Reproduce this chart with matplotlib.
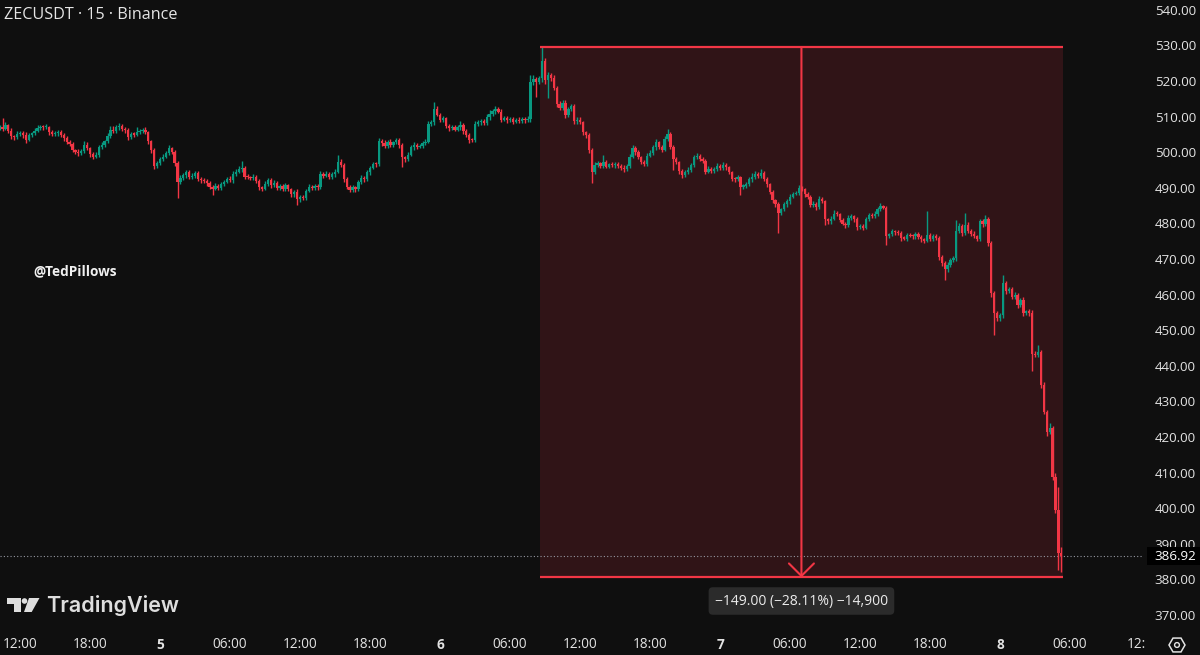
import numpy as np
import matplotlib
matplotlib.use("Agg")
import matplotlib.pyplot as plt
import matplotlib.transforms as mtransforms
from matplotlib.patches import Rectangle, RegularPolygon, Circle, Polygon

plt.rcParams["font.family"] = ["Open Sans", "DejaVu Sans"]

# --- chart data: ZECUSDT 15 min candles, day 4 10:15 -> day 8 05:15 ---
TITLE = "ZECUSDT \u00b7 15 \u00b7 Binance"
WATERMARK = "@TedPillows"

first_open = 507.2

# closes, one row per 6 hours (24 candles)
closes_a = [507.5, 507.0, 508.0, 506.5, 505.0, 504.6, 505.5, 505.8, 505.2, 504.0, 505.3, 505.8,
            506.5, 507.3, 507.6, 507.4, 507.5, 506.0, 505.6, 505.8, 506.2, 505.2, 504.5, 503.4]
closes_b = [502.8, 501.0, 500.5, 500.2, 500.8, 502.6, 501.5, 500.0, 499.2, 499.8, 501.8, 502.4,
            503.5, 505.0, 506.8, 506.3, 507.4, 507.8, 507.0, 506.6, 504.6, 505.6, 505.4, 506.0]
closes_c = [506.4, 506.8, 506.0, 503.5, 501.0, 496.5, 497.5, 498.5, 499.2, 500.3, 501.5, 500.6,
            497.4, 492.0, 493.2, 494.0, 494.8, 493.6, 493.8, 494.6, 493.0, 492.6, 492.4, 491.8]
closes_d = [490.6, 490.2, 491.0, 490.4, 491.4, 492.2, 493.0, 492.6, 494.4, 495.0, 495.6, 496.0,
            493.6, 493.4, 493.2, 493.6, 492.4, 490.6, 490.2, 491.6, 492.6, 491.2, 491.8, 490.4]
closes_e = [491.0, 490.2, 491.2, 490.0, 488.6, 489.2, 487.2, 488.0, 487.6, 489.6, 490.8, 490.4,
            491.0, 490.6, 494.2, 493.8, 494.4, 493.6, 494.2, 495.0, 497.8, 496.8, 493.0, 490.8]
closes_f = [489.8, 490.6, 490.0, 492.0, 493.2, 492.8, 494.8, 496.0, 497.2, 497.0, 503.6, 503.0,
            502.2, 503.4, 502.6, 503.2, 503.8, 502.4, 499.0, 498.4, 499.8, 501.8, 502.6, 502.0]
closes_g = [502.2, 503.0, 503.4, 508.4, 508.8, 512.6, 511.0, 509.6, 510.0, 507.8, 507.2, 507.6,
            506.8, 507.4, 508.2, 506.4, 505.4, 504.0, 503.8, 508.4, 508.8, 509.2, 508.6, 510.2]
closes_h = [511.2, 512.0, 512.6, 511.8, 509.6, 510.0, 509.4, 509.8, 509.0, 509.6, 509.2, 509.8,
            509.4, 509.8, 520.2, 521.0, 520.2, 521.2, 526.0, 520.8, 522.0, 521.2, 518.6, 514.0]
closes_i = [513.0, 514.2, 510.8, 512.6, 513.4, 509.2, 509.6, 508.8, 506.0, 505.2, 501.0, 494.8,
            496.8, 497.4, 496.6, 497.6, 496.4, 497.0, 496.8, 497.2, 496.6, 496.0, 495.6, 496.6]
closes_j = [499.2, 501.6, 500.4, 499.0, 497.8, 497.2, 499.4, 500.2, 501.8, 503.2, 502.0, 501.2,
            504.2, 505.6, 502.0, 498.4, 497.6, 495.2, 494.0, 494.8, 495.4, 496.8, 499.0, 499.4]
closes_k = [498.6, 498.0, 495.0, 495.8, 495.2, 495.6, 496.6, 496.0, 496.8, 496.2, 494.8, 493.0,
            492.8, 493.4, 490.8, 491.0, 491.4, 492.8, 493.6, 494.4, 493.8, 494.6, 493.0, 491.4]
closes_l = [489.2, 487.0, 485.8, 483.4, 484.4, 485.8, 486.6, 488.0, 488.8, 489.0, 490.4, 490.0,
            488.6, 488.0, 485.6, 486.0, 485.0, 487.4, 486.6, 481.6, 481.0, 481.8, 483.2, 483.0]
closes_m = [481.4, 480.4, 480.0, 482.0, 482.4, 481.6, 479.4, 479.8, 479.2, 481.6, 482.8, 482.6,
            483.2, 484.4, 485.2, 484.8, 477.0, 477.4, 478.2, 478.0, 477.8, 476.4, 476.2, 477.2]
closes_n = [477.0, 476.8, 477.4, 476.6, 476.0, 475.6, 477.2, 476.2, 477.0, 476.4, 471.0, 469.4,
            467.6, 468.8, 470.2, 470.6, 478.4, 479.6, 477.8, 480.0, 478.4, 477.6, 476.8, 476.0]
closes_o = [481.0, 480.2, 481.8, 475.0, 461.0, 455.4, 453.8, 454.6, 463.6, 461.4, 462.0, 459.8,
            460.4, 457.6, 459.0, 455.4, 455.8, 455.2, 443.8, 443.6, 444.2, 435.0, 427.6, 421.8,
            423.0, 409.2, 400.0, 388.0, 386.92]

# wick length above the body top / below the body bottom
upper_a = [0.6, 2.5, 0.8, 0.5, 0.7, 0.4, 0.9, 0.6, 0.5, 0.8, 0.6, 0.4, 0.7, 0.9, 0.5, 0.6, 0.8, 0.4, 0.6, 0.7, 0.5, 0.4, 0.6, 0.5]
upper_b = [0.5, 0.6, 0.4, 0.8, 0.5, 0.9, 0.6, 0.4, 0.5, 0.7, 0.6, 0.8, 0.5, 0.7, 0.9, 1.0, 0.6, 0.8, 0.5, 0.4, 0.7, 0.6, 0.5, 1.6]
upper_c = [0.7, 0.5, 0.6, 0.4, 0.5, 0.6, 0.5, 0.7, 0.8, 0.6, 1.0, 0.5, 0.4, 0.6, 0.8, 0.5, 0.7, 0.6, 0.9, 0.5, 0.6, 0.4, 0.5, 0.6]
upper_d = [0.5, 0.6, 0.8, 0.4, 0.7, 0.5, 0.6, 0.8, 0.7, 0.6, 0.9, 2.0, 0.5, 0.6, 0.4, 0.7, 0.5, 0.6, 0.4, 0.8, 0.6, 0.5, 0.7, 0.5]
upper_e = [0.6, 0.5, 0.7, 0.4, 0.5, 0.6, 0.8, 0.5, 0.4, 0.6, 0.7, 0.5, 0.6, 0.4, 0.9, 0.6, 0.7, 0.5, 0.8, 0.6, 2.0, 0.7, 0.5, 0.6]
upper_f = [0.5, 0.6, 0.4, 0.7, 0.8, 0.5, 0.6, 0.7, 0.5, 0.6, 0.9, 0.5, 1.0, 0.6, 0.8, 0.5, 0.7, 0.6, 0.5, 0.4, 0.6, 0.7, 0.8, 0.5]
upper_g = [0.6, 0.5, 0.7, 0.9, 0.6, 1.9, 0.8, 0.5, 0.6, 0.4, 0.7, 0.5, 0.6, 0.8, 0.9, 0.5, 0.6, 0.4, 0.5, 0.8, 0.6, 0.7, 0.5, 0.9]
upper_h = [1.0, 0.6, 0.8, 0.5, 0.7, 0.6, 0.5, 0.4, 0.6, 0.5, 0.7, 0.6, 0.4, 0.8, 2.0, 1.2, 0.7, 0.6, 4.0, 0.8, 1.0, 0.6, 0.9, 0.5]
upper_i = [0.7, 0.8, 0.9, 0.6, 0.5, 0.7, 0.6, 0.8, 0.5, 0.4, 0.6, 0.5, 0.8, 0.7, 0.4, 2.0, 0.6, 0.5, 0.7, 0.4, 0.6, 0.5, 0.8, 0.6]
upper_j = [0.7, 0.9, 0.5, 0.6, 0.4, 0.5, 0.7, 0.8, 0.6, 0.9, 0.5, 0.6, 0.8, 1.4, 0.6, 0.5, 0.7, 0.4, 0.5, 0.6, 0.8, 0.7, 0.6, 0.9]
upper_k = [0.5, 0.6, 0.4, 0.7, 0.5, 0.6, 0.8, 0.5, 0.9, 0.6, 0.4, 0.5, 0.6, 0.7, 0.5, 0.4, 0.6, 0.8, 0.9, 0.7, 0.5, 1.0, 0.6, 0.4]
upper_l = [0.5, 0.6, 0.4, 0.7, 0.5, 0.6, 0.8, 0.7, 0.6, 0.5, 0.9, 0.6, 0.5, 0.7, 0.4, 0.6, 0.5, 0.8, 0.6, 0.4, 0.5, 0.7, 0.9, 0.6]
upper_m = [0.5, 0.6, 0.4, 0.8, 0.7, 0.5, 0.6, 0.4, 0.5, 0.7, 0.6, 0.5, 0.8, 0.6, 0.9, 0.5, 0.6, 0.4, 0.7, 0.5, 0.6, 0.4, 0.5, 0.6]
upper_n = [0.5, 0.4, 0.6, 0.7, 0.5, 0.4, 6.8, 0.5, 0.6, 0.4, 0.5, 0.6, 0.4, 0.7, 0.5, 0.6, 3.0, 1.0, 0.6, 3.4, 0.7, 0.5, 0.6, 0.4]
upper_o = [0.7, 0.6, 1.0, 0.5, 0.6, 0.5, 0.4, 0.6, 2.4, 0.7, 0.6, 0.5, 0.8, 0.6, 0.5, 0.7, 0.4, 0.6, 0.8, 0.7,
           2.2, 0.6, 0.8, 0.5, 1.4, 0.6, 1.2, 6.4, 1.6]

lower_a = [0.5, 0.6, 0.4, 0.7, 0.8, 0.6, 0.5, 0.4, 0.7, 0.9, 0.5, 0.6, 0.4, 0.5, 0.7, 0.6, 0.4, 0.8, 0.5, 0.6, 0.7, 0.5, 0.9, 0.6]
lower_b = [0.7, 0.5, 0.6, 0.9, 0.4, 0.6, 0.5, 0.8, 0.7, 0.5, 0.6, 0.4, 0.5, 0.6, 0.7, 0.5, 0.4, 0.6, 0.5, 0.8, 0.7, 0.5, 0.6, 0.4]
lower_c = [0.5, 0.6, 0.4, 0.7, 0.8, 0.9, 0.5, 0.6, 0.4, 0.5, 0.6, 0.7, 0.8, 4.4, 0.6, 0.5, 0.7, 0.6, 0.8, 0.5, 0.6, 0.7, 0.5, 0.8]
lower_d = [0.6, 1.8, 0.5, 0.7, 0.6, 0.4, 0.5, 0.6, 0.7, 0.5, 0.4, 0.6, 0.8, 0.5, 0.7, 0.6, 0.5, 0.9, 0.7, 0.5, 0.6, 0.8, 0.5, 0.6]
lower_e = [0.5, 0.7, 0.6, 0.5, 0.8, 0.6, 1.6, 0.7, 0.6, 0.5, 0.4, 0.6, 0.5, 0.7, 0.6, 0.5, 0.4, 0.6, 0.8, 0.7, 0.5, 0.6, 0.9, 0.7]
lower_f = [0.6, 0.5, 0.7, 0.4, 0.5, 0.6, 0.5, 0.7, 0.4, 0.6, 0.5, 0.7, 0.6, 0.5, 0.8, 0.6, 0.5, 0.7, 2.7, 0.6, 0.5, 0.4, 0.6, 0.7]
lower_g = [0.5, 0.6, 0.4, 0.5, 0.7, 0.6, 0.5, 0.8, 0.6, 0.5, 0.7, 0.6, 0.4, 0.5, 0.6, 0.8, 0.7, 0.9, 0.6, 0.5, 0.7, 0.6, 0.5, 0.4]
lower_h = [0.6, 0.5, 0.7, 0.4, 0.6, 0.5, 0.7, 0.6, 0.5, 0.4, 0.6, 0.5, 0.7, 0.6, 0.8, 1.0, 4.2, 0.7, 0.9, 1.2, 5.0, 0.8, 0.6, 0.9]
lower_i = [0.8, 0.6, 0.7, 0.5, 0.6, 0.9, 0.7, 0.5, 0.6, 0.8, 0.7, 3.0, 0.6, 0.5, 0.7, 0.6, 0.4, 0.5, 0.6, 0.7, 0.5, 0.6, 0.8, 0.5]
lower_j = [0.6, 0.5, 0.7, 0.6, 0.8, 0.5, 0.6, 0.4, 0.5, 0.7, 0.6, 0.8, 0.5, 0.6, 0.7, 3.0, 0.6, 0.8, 0.7, 0.5, 0.6, 0.4, 0.5, 0.6]
lower_k = [0.5, 0.6, 0.8, 0.5, 0.7, 0.6, 0.4, 0.5, 0.6, 0.7, 0.5, 0.6, 0.8, 0.5, 2.4, 0.6, 0.5, 0.4, 0.7, 0.6, 0.5, 0.6, 0.7, 0.8]
lower_l = [0.6, 0.7, 0.8, 5.6, 0.6, 0.5, 0.7, 0.6, 0.5, 0.4, 0.6, 0.5, 0.7, 0.8, 0.6, 0.5, 0.9, 0.6, 0.5, 1.5, 0.7, 0.6, 0.5, 0.6]
lower_m = [0.7, 0.5, 0.9, 0.6, 0.5, 0.7, 0.8, 0.6, 0.5, 0.4, 0.6, 0.5, 0.7, 0.6, 0.5, 0.4, 2.6, 0.6, 0.5, 0.7, 0.6, 0.8, 0.5, 0.6]
lower_n = [0.5, 0.6, 0.7, 0.5, 0.8, 0.6, 0.5, 0.7, 0.6, 0.5, 0.8, 0.9, 3.1, 0.7, 0.6, 0.5, 0.6, 0.7, 0.8, 0.5, 0.6, 0.7, 0.5, 0.6]
lower_o = [0.6, 0.7, 0.5, 0.8, 1.2, 6.4, 0.9, 0.7, 0.6, 0.8, 0.5, 0.7, 0.6, 0.8, 0.5, 0.9, 0.6, 0.7, 4.9, 0.8,
           0.6, 0.9, 0.7, 1.2, 0.5, 0.8, 1.0, 4.8, 4.3]

# time axis: candle slot of each label
time_labels = ["12:00", "18:00", "5", "06:00", "12:00", "18:00", "6", "06:00",
               "12:00", "18:00", "7", "06:00", "12:00", "18:00", "8", "06:00"]
time_slots = [7, 31, 55, 79, 103, 127, 151, 175, 199, 223, 247, 271, 295, 319, 343, 367]
day_labels = {"5", "6", "7", "8"}

price_ticks = [540, 530, 520, 510, 500, 490, 480, 470, 460, 450, 440, 430, 420, 410, 400, 390, 380, 370]

# price range measurement drawn on the chart
measure_start, measure_end = 185.2, 364.6
measure_top, measure_bottom = 530.0, 381.0

# --- build OHLC ---
closes = np.array(closes_a + closes_b + closes_c + closes_d + closes_e + closes_f + closes_g + closes_h
                  + closes_i + closes_j + closes_k + closes_l + closes_m + closes_n + closes_o)
upper = np.array(upper_a + upper_b + upper_c + upper_d + upper_e + upper_f + upper_g + upper_h
                 + upper_i + upper_j + upper_k + upper_l + upper_m + upper_n + upper_o)
lower = np.array(lower_a + lower_b + lower_c + lower_d + lower_e + lower_f + lower_g + lower_h
                 + lower_i + lower_j + lower_k + lower_l + lower_m + lower_n + lower_o)
if not (len(closes) == len(upper) == len(lower)):
    raise ValueError(f"length mismatch {len(closes)} {len(upper)} {len(lower)}")

opens = np.concatenate([[first_open], closes[:-1]])
body_top = np.maximum(opens, closes)
body_bot = np.minimum(opens, closes)
highs = body_top + upper
lows = body_bot - lower
idx = np.arange(len(closes))

UP = "#089981"
DOWN = "#f23645"
BG = "#0f0f0f"
TXT = "#e3e3e3"
colors = np.where(closes >= opens, UP, DOWN)

W, H = 1200, 655
fig = plt.figure(figsize=(W / 100, H / 100), dpi=100, facecolor=BG)
ax = fig.add_axes([0, 23 / H, 1143 / W, 632 / H])
ax.set_facecolor(BG)
for s in ax.spines.values():
    s.set_visible(False)
ax.set_xticks([])
ax.set_yticks([])
ax.set_xlim(0.14, 392.0)
ax.set_ylim(365.67, 543.2)

# measurement box
ax.add_patch(Rectangle((measure_start, measure_bottom), measure_end - measure_start,
                       measure_top - measure_bottom, facecolor=DOWN, alpha=0.15,
                       edgecolor="none", zorder=1))

# candles
ax.vlines(idx, lows, highs, colors=colors, linewidth=1.0, zorder=3)
heights = np.maximum(body_top - body_bot, 0.3)
ax.bar(idx, heights, bottom=body_bot, width=0.78, color=colors, linewidth=0, zorder=4)

# measurement lines and arrow
ax.hlines([measure_top, measure_bottom], measure_start, measure_end, colors=DOWN, linewidth=1.6, zorder=5)
mid = (measure_start + measure_end) / 2
ax.annotate("", xy=(mid, measure_bottom), xytext=(mid, measure_top),
            arrowprops=dict(arrowstyle="->,head_length=0.45,head_width=0.45", color=DOWN,
                            lw=1.5, mutation_scale=20, shrinkA=0, shrinkB=0), zorder=5)

change = measure_bottom - measure_top
pct = change / measure_top * 100
ticks = int(round(change * 100))
label = f"{change:.2f} ({pct:.2f}%) {ticks:,}".replace("-", "\u2212")
xform_lbl = mtransforms.blended_transform_factory(ax.transData, ax.transAxes)
ax.text(mid, (632 - 601) / 632, label, transform=xform_lbl, ha="center", va="center",
        color="#ececec", fontsize=10, zorder=7,
        bbox=dict(boxstyle="round,pad=0.45,rounding_size=0.3", facecolor="#2b2b2b", edgecolor="none"))

# last price line
last = closes[-1]
ax.axhline(last, color="#9598a1", linewidth=0.8, linestyle=(0, (1, 2)), zorder=2)

# price scale labels
xform_y = mtransforms.blended_transform_factory(ax.transAxes, ax.transData)
for p in price_ticks:
    ax.text(1196 / 1143, p, f"{p:.2f}", transform=xform_y, ha="right", va="center",
            color=TXT, fontsize=9.6, clip_on=False)
ax.add_patch(Rectangle((1147 / 1143, last - 2.55), 53 / 1143, 5.1, transform=xform_y,
                       facecolor="#000000", edgecolor="none", clip_on=False, zorder=8))
ax.text(1196 / 1143, last, f"{last:.2f}", transform=xform_y, ha="right", va="center",
        color="#ffffff", fontsize=9.6, clip_on=False, zorder=9)

# time axis labels
for lab, slot in zip(time_labels, time_slots):
    ax.text(slot, -13 / 632, lab, transform=xform_lbl, ha="center", va="center", color=TXT,
            fontsize=9.8, fontweight="bold" if lab in day_labels else "normal", clip_on=False)

# overlay in pixel coordinates for branding
ov = fig.add_axes([0, 0, 1, 1])
ov.set_xlim(0, W)
ov.set_ylim(H, 0)
ov.axis("off")
ov.patch.set_alpha(0)

ov.text(1127, 645, "12:", ha="left", va="center", color=TXT, fontsize=9.8)
ov.text(4, 15, TITLE, ha="left", va="center", color="#e6e6e6", fontsize=11.6)
ov.text(33, 271, WATERMARK, ha="left", va="center", color="#f0f0f0", fontsize=9.8, fontweight="bold")

logo_c = "#dedede"
ov.add_patch(Polygon([(7, 598), (21, 598), (21, 612), (13.5, 612), (13.5, 603.5), (7, 603.5)],
                     closed=True, facecolor=logo_c, edgecolor="none"))
ov.add_patch(Circle((24.5, 601), 2.8, facecolor=logo_c, edgecolor="none"))
ov.add_patch(Polygon([(29, 598), (39.5, 598), (31.7, 612), (24, 612)], closed=True,
                     facecolor=logo_c, edgecolor="none"))
ov.text(46, 606, "TradingView", ha="left", va="center", color=logo_c, fontsize=15.5,
        fontweight="semibold", family=["Inter", "DejaVu Sans"])

ov.add_patch(RegularPolygon((1177, 645), numVertices=6, radius=8, orientation=np.pi / 6,
                            facecolor="none", edgecolor=TXT, linewidth=1.1))
ov.add_patch(Circle((1177, 645), 2.4, facecolor="none", edgecolor=TXT, linewidth=1.0))

fig.savefig("out.png", dpi=100, facecolor=BG)
